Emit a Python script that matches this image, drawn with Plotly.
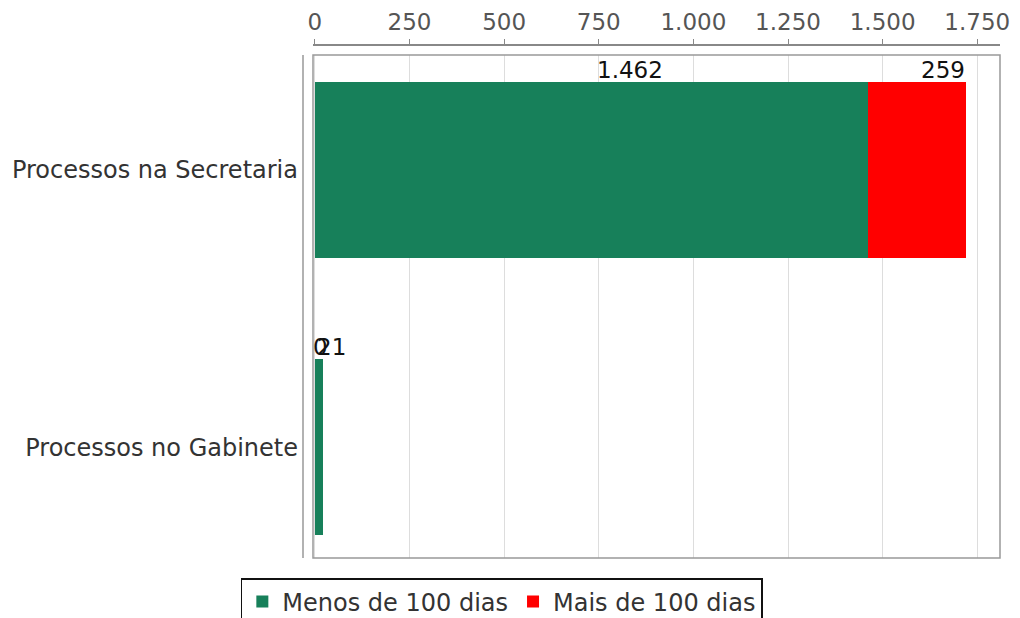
import plotly.graph_objects as go

# Process counts by location, split by age
categories = ["Processos no Gabinete", "Processos na Secretaria"]
menos_100 = [21, 1462]
mais_100 = [0, 259]
tick_vals = [0, 250, 500, 750, 1000, 1250, 1500, 1750]
tick_text = ["0", "250", "500", "750", "1.000", "1.250", "1.500", "1.750"]

GREEN = "#17805a"
RED = "#ff0000"
FONT = "DejaVu Sans"
BAR_W = 0.635


def fmt(v):
    return f"{v:,}".replace(",", ".")


fig = go.Figure()
fig.add_trace(go.Bar(
    y=categories, x=menos_100, orientation="h", name="Menos de 100 dias",
    marker=dict(color=GREEN, line=dict(width=0)), width=BAR_W,
))
fig.add_trace(go.Bar(
    y=categories, x=mais_100, orientation="h", name="Mais de 100 dias",
    marker=dict(color=RED, line=dict(width=0)), width=BAR_W,
))
# invisible trace carrying the top tick axis
fig.add_trace(go.Scatter(x=[0], y=[categories[0]], xaxis="x2", mode="markers",
                         marker=dict(opacity=0), showlegend=False, hoverinfo="skip"))

# value labels above each segment
label_shift = {("g", 0): 13, ("r", 0): -2, ("g", 1): 38, ("r", 1): 26}
for i, cat in enumerate(categories):
    g, r = menos_100[i], mais_100[i]
    fig.add_annotation(x=g / 2, y=i + BAR_W / 2, text=fmt(g), showarrow=False,
                       xanchor="center", yanchor="bottom", xshift=label_shift[("g", i)],
                       yshift=-3, font=dict(family=FONT, size=23, color="#111"))
    fig.add_annotation(x=g + r / 2, y=i + BAR_W / 2, text=fmt(r), showarrow=False,
                       xanchor="center", yanchor="bottom", xshift=label_shift[("r", i)],
                       yshift=-3, font=dict(family=FONT, size=23, color="#111"))

plot_w = 1000 - 313
area_h = 558 - 45
dom_top = 503 / area_h

# plot frame and offset left axis line
fig.add_shape(type="rect", xref="paper", yref="paper", x0=0, x1=1, y0=0, y1=dom_top,
              line=dict(color="#999999", width=1.5), layer="above")
fig.add_shape(type="line", xref="paper", yref="paper", x0=-10 / plot_w, x1=-10 / plot_w,
              y0=0, y1=dom_top, line=dict(color="#999999", width=1.5))

xrange = [-5, 1810]
fig.update_layout(
    width=1020, height=618,
    margin=dict(l=313, r=20, t=45, b=60, autoexpand=False),
    barmode="stack",
    plot_bgcolor="white", paper_bgcolor="white",
    font=dict(family=FONT, color="#444"),
    xaxis=dict(range=xrange, tickvals=tick_vals, showticklabels=False, showgrid=True,
               gridcolor="#dddddd", gridwidth=1, zeroline=False, showline=False, ticks=""),
    xaxis2=dict(range=xrange, overlaying="x", side="top", anchor="free", position=1,
                tickvals=tick_vals, ticktext=tick_text, showline=True, linecolor="#888888",
                linewidth=1.5, ticks="outside", ticklen=5, tickcolor="#888888",
                showgrid=False, zeroline=False, automargin=False,
                tickfont=dict(family=FONT, size=23, color="#555")),
    yaxis=dict(domain=[0, dom_top], categoryorder="array", categoryarray=categories,
               range=[-0.4, 1.415], showgrid=False, zeroline=False, showline=False,
               ticks="", ticklabelstandoff=14, automargin=False,
               tickfont=dict(family=FONT, size=24, color="#333")),
    legend=dict(orientation="h", xref="container", yref="container", x=0.492, y=1 - 578 / 618,
                xanchor="center", yanchor="top", bordercolor="#111", borderwidth=1.5,
                font=dict(family=FONT, size=24, color="#333"), bgcolor="white",
                itemsizing="constant", traceorder="normal"),
    showlegend=True,
)

fig.write_html("out.html")
